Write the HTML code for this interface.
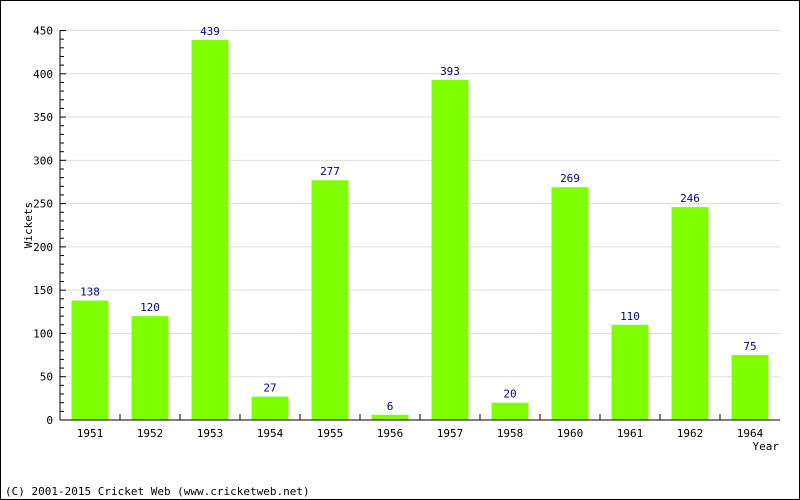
<!DOCTYPE html>
<html><head><meta charset="utf-8"><style>
html,body{margin:0;padding:0;background:#fff}
svg{display:block;font-family:"DejaVu Sans Mono","Liberation Mono",monospace}
</style></head><body>
<svg id="chart" width="800" height="500" viewBox="0 0 800 500">
<rect x="0.5" y="0.5" width="799" height="499" fill="#fff" stroke="#000"/>
<g id="grid"></g><g id="bars"></g><g id="axes"></g>
<text x="32" y="225" font-size="11" text-anchor="middle" transform="rotate(-90 32 225)">Wickets</text>
<text x="779" y="450" font-size="11" text-anchor="end">Year</text>
<text x="5" y="495" font-size="11">(C) 2001-2015 Cricket Web (www.cricketweb.net)</text>
</svg>
<script>
const categories=["1951","1952","1953","1954","1955","1956","1957","1958","1960","1961","1962","1964"];
const values=[138,120,439,27,277,6,393,20,269,110,246,75];
const yTicks=[0,50,100,150,200,250,300,350,400,450];
const NS="http://www.w3.org/2000/svg";
const x0=60,x1=780,y0=420,yTop=30.5,yMax=450;
const band=(x1-x0)/categories.length;
const y=v=>y0-(v/yMax)*(y0-yTop);
const xc=i=>x0+band*(i+0.5);
function mk(t,a,p){const e=document.createElementNS(NS,t);for(const k in a)e.setAttribute(k,a[k]);p.appendChild(e);return e;}
const grid=document.getElementById('grid'),bars=document.getElementById('bars'),axes=document.getElementById('axes');
yTicks.forEach(v=>{
  if(v>0){const g=mk('line',{x1:x0+6,x2:x1,y1:y(v),y2:y(v),stroke:'#ddd'},grid);
  
  }
  const t=mk('line',{x1:x0,x2:x0+6,y1:y(v),y2:y(v),stroke:'#000'},axes);
  
  
  const l=mk('text',{x:x0-7,y:y(v)+4,'font-size':11,'text-anchor':'end'},axes);l.textContent=v;
  
  
});
for(let v=10;v<yMax;v+=10){if(v%50===0)continue;
  const m=mk('line',{x1:x0,x2:x0+4,y1:y(v),y2:y(v),stroke:'#000'},axes);
  
  }
categories.forEach((c,i)=>{
  const v=values[i],bw=37;
  const r=mk('rect',{x:xc(i)-bw/2,y:y(v),width:bw,height:y0-y(v),fill:'#80ff00'},bars);
  
  
  const vl=mk('text',{x:xc(i),y:y(v)-5,'font-size':11,'text-anchor':'middle',fill:'#00008b'},bars);vl.textContent=v;
  
  
  const xl=mk('text',{x:xc(i),y:437,'font-size':11,'text-anchor':'middle'},axes);xl.textContent=c;
  
  
  if(i>0){const t=mk('line',{x1:x0+band*i,x2:x0+band*i,y1:y0,y2:y0-6,stroke:'#000'},axes);
  
  }
});
const ya=mk('line',{x1:x0,x2:x0,y1:yTop,y2:y0,stroke:'#000'},axes);


const xa=mk('line',{x1:x0,x2:x1,y1:y0,y2:y0,stroke:'#000'},axes);


</script>
</body></html>
